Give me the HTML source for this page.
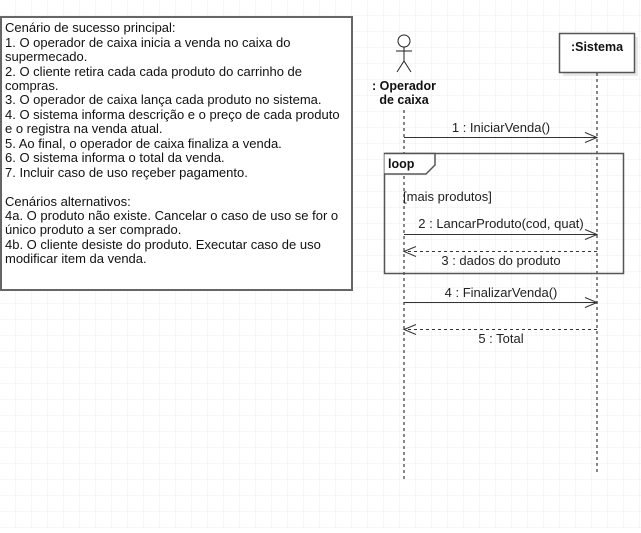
<!DOCTYPE html>
<html><head><meta charset="utf-8"><style>
body{margin:0;width:641px;height:528px;overflow:hidden;background:#fff;font-family:"Liberation Sans",Arial,sans-serif;}
</style></head><body>
<svg width="641" height="528" xmlns="http://www.w3.org/2000/svg" font-family="Liberation Sans, Arial, sans-serif">
<defs>
<pattern id="g" width="16" height="16" patternUnits="userSpaceOnUse"><path d="M16 0V16M0 16H16" fill="none" stroke="#ececec" stroke-width="1"/></pattern>
</defs>
<rect width="641" height="528" fill="url(#g)"/>
<rect x="1" y="17" width="351" height="273" fill="#fff" stroke="#666" stroke-width="2"/>
<g font-size="13" fill="#111">
<text x="5" y="32">Cenário de sucesso principal:</text>
<text x="5" y="47">1. O operador de caixa inicia a venda no caixa do</text>
<text x="5" y="61">supermecado.</text>
<text x="5" y="76">2. O cliente retira cada cada produto do carrinho de</text>
<text x="5" y="90">compras.</text>
<text x="5" y="104">3. O operador de caixa lança cada produto no sistema.</text>
<text x="5" y="119">4. O sistema informa descrição e o preço de cada produto</text>
<text x="5" y="133">e o registra na venda atual.</text>
<text x="5" y="148">5. Ao final, o  operador de caixa finaliza a venda.</text>
<text x="5" y="162">6. O sistema informa o total da venda.</text>
<text x="5" y="177">7. Incluir caso de uso reçeber pagamento.</text>
<text x="5" y="206">Cenários alternativos:</text>
<text x="5" y="220">4a. O produto não existe. Cancelar o caso de uso se for o</text>
<text x="5" y="234">único produto a ser comprado.</text>
<text x="5" y="249">4b. O cliente desiste do produto. Executar caso de uso</text>
<text x="5" y="263">modificar item da venda.</text>
</g>
<g stroke="#222" stroke-width="1" fill="#fff">
<circle cx="404" cy="41" r="6"/>
<path d="M404 47V61M396 51H412M404 61L397 72M404 61L411 72" fill="none"/>
</g>
<g font-size="12.5" font-weight="bold" text-anchor="middle" fill="#111">
<text x="404" y="90">: Operador</text>
<text x="404" y="104">de caixa</text>
</g>
<line x1="404" y1="110" x2="404" y2="482" stroke="#111" stroke-dasharray="3,3"/>
<rect x="563" y="37" width="75" height="39" fill="#e8e8e8"/>
<rect x="559.5" y="33.5" width="75" height="39" fill="#fff" stroke="#555" stroke-width="1.5"/>
<text x="597" y="51" font-size="12.5" font-weight="bold" text-anchor="middle" fill="#111">:Sistema</text>
<line x1="597" y1="73" x2="597" y2="474" stroke="#111" stroke-dasharray="3,3"/>
<rect x="384.5" y="153.5" width="239" height="120" fill="none" stroke="#555" stroke-width="1.5"/>
<path d="M384.5 153.5H435V165L426 174H384.5" fill="#fff" stroke="#555" stroke-width="1.5"/>
<text x="388" y="168" font-size="12.5" font-weight="bold" fill="#111">loop</text>
<g font-size="13" fill="#222">
<text x="403" y="201">[mais produtos]</text>
<g text-anchor="middle">
<text x="501" y="132">1 : IniciarVenda()</text>
<text x="501" y="228">2 : LancarProduto(cod, quat)</text>
<text x="501" y="265">3 : dados do produto</text>
<text x="501" y="297">4 : FinalizarVenda()</text>
<text x="501" y="343">5 : Total</text>
</g>
</g>
<g stroke="#333" stroke-width="1" fill="none">
<path d="M404 137.5H597M585 132.5L597 137.5L585 142.5"/>
<path d="M404 234.5H597M585 229.5L597 234.5L585 239.5"/>
<path d="M597 251.5H404" stroke-dasharray="3,3"/><path d="M416 246.5L404 251.5L416 256.5"/>
<path d="M404 302.5H597M585 297.5L597 302.5L585 307.5"/>
<path d="M597 329.5H404" stroke-dasharray="3,3"/><path d="M416 324.5L404 329.5L416 334.5"/>
</g>
</svg>
</body></html>
